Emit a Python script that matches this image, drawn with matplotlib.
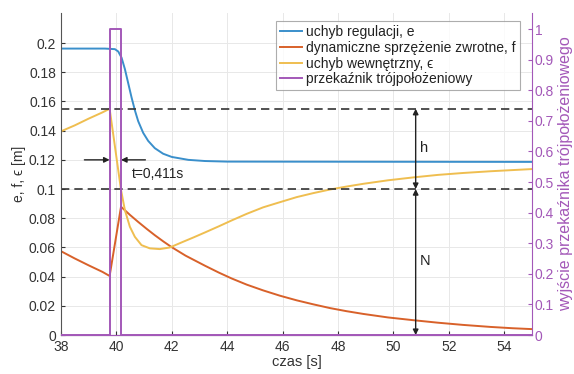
import numpy as np
import matplotlib.pyplot as plt
from matplotlib.ticker import FuncFormatter

plt.rcParams['font.family'] = ['Liberation Sans', 'DejaVu Sans']

# uchyb regulacji e
t_e = [38, 39.59, 39.95, 40.07, 40.19, 40.31, 40.43, 40.55, 40.67, 40.79, 40.97, 41.15,
       41.39, 41.69, 42.0, 42.6, 43.2, 44.0, 55]
e = [0.1962, 0.1962, 0.1958, 0.1942, 0.1900, 0.1822, 0.1725, 0.1628, 0.1540, 0.1465, 0.1385,
     0.1330, 0.1280, 0.1242, 0.1220, 0.1200, 0.1192, 0.1188, 0.1186]

# dynamiczne sprzezenie zwrotne f
t_f = [38, 38.5, 39, 39.5, 39.76, 40.17, 40.5, 40.79, 41.1, 41.39, 41.7, 42.0, 42.5, 43.2, 43.7,
       44.16, 44.7, 45.3, 45.9, 46.51, 47.1, 47.71, 48.3, 48.91, 49.8, 50.72, 51.6, 52.5, 53.5,
       54.3, 55]
f = [0.0575, 0.0525, 0.0478, 0.0433, 0.0405, 0.0879, 0.0822, 0.0775, 0.0727, 0.0684, 0.0641,
     0.0602, 0.0544, 0.0475, 0.0428, 0.0388, 0.0346, 0.0306, 0.0270, 0.0238, 0.0211, 0.0185,
     0.0164, 0.0145, 0.0121, 0.0102, 0.0085, 0.0070, 0.0056, 0.0047, 0.0041]

# uchyb wewnetrzny eps
t_eps = [38, 38.5, 39, 39.5, 39.76, 40.17, 40.31, 40.49, 40.67, 40.91, 41.21, 41.57, 41.93, 42.36,
         42.8, 43.2, 43.7, 44.16, 44.7, 45.3, 45.9, 46.51, 47.1, 47.71, 48.3, 48.91, 49.8, 50.72,
         51.6, 52.5, 53.5, 54.3, 55]
eps = [0.1395, 0.1436, 0.1482, 0.1525, 0.1550, 0.0995, 0.0856, 0.0742, 0.0673, 0.0616, 0.0594,
       0.0589, 0.0600, 0.0635, 0.0670, 0.0703, 0.0745, 0.0785, 0.0830, 0.0875, 0.0910, 0.0945,
       0.0972, 0.0997, 0.1017, 0.1036, 0.1060, 0.1080, 0.1097, 0.1110, 0.1122, 0.1130, 0.1137]

# przekaznik trojpolozeniowy
t_u = [38, 39.76, 39.76, 40.17, 40.17, 55]
u = [0, 0, 1, 1, 0, 0]

thr_upper = 0.155
thr_lower = 0.1

c_blue = '#3A8FCB'
c_orange = '#D8612A'
c_yellow = '#EFBE50'
c_purple = '#A358B8'

fig = plt.figure(figsize=(5.74, 3.74), dpi=100)
ax = fig.add_axes([0.106, 0.104, 0.821, 0.861])

ax.plot(t_e, e, color=c_blue, lw=1.4, label='uchyb regulacji, e')
ax.plot(t_f, f, color=c_orange, lw=1.4, label='dynamiczne sprzężenie zwrotne, f')
ax.plot(t_eps, eps, color=c_yellow, lw=1.4, label='uchyb wewnętrzny, \u03f5')
ax.axhline(thr_upper, color='#333333', ls=(0, (5, 3)), lw=1.2)
ax.axhline(thr_lower, color='#333333', ls=(0, (5, 3)), lw=1.2)

ax.set_xlim(38, 55)
ax.set_ylim(0, 0.2205)
ax.set_xticks(np.arange(38, 55, 2))
ax.set_yticks(np.arange(0, 0.201, 0.02))
ax.yaxis.set_major_formatter(FuncFormatter(lambda v, p: '%g' % round(v, 3)))
ax.grid(True, color='#e8e8e8', lw=0.7)
ax.set_axisbelow(True)
ax.tick_params(direction='in', labelsize=10, colors='#333333', length=3)
ax.spines['top'].set_visible(False)
ax.spines['right'].set_visible(False)
for s in ['left', 'bottom']:
    ax.spines[s].set_color('#555555')
ax.set_xlabel('czas [s]', fontsize=10.5, color='#333333', labelpad=1)
ax.set_ylabel('e, f, \u03f5 [m]', fontsize=10, color='#333333', labelpad=2)

ax2 = ax.twinx()
ax2.plot(t_u, u, color=c_purple, lw=1.4, label='przekaźnik trójpołożeniowy')
ax2.set_ylim(0, 1.052)
ax2.set_yticks(np.arange(0, 1.01, 0.1))
ax2.yaxis.set_major_formatter(FuncFormatter(lambda v, p: '%g' % round(v, 2)))
ax2.tick_params(direction='in', labelsize=10, colors=c_purple, length=3, pad=2)
ax2.spines['top'].set_visible(False)
ax2.spines['left'].set_visible(False)
ax2.spines['right'].set_color(c_purple)
ax2.spines['bottom'].set_color(c_purple)
ax2.set_ylabel('wyjście przekaźnika trójpołożeniowego', fontsize=11.5, color=c_purple, labelpad=3)

# annotations
arr = dict(arrowstyle='<|-|>', color='#222222', lw=1.0, mutation_scale=8, shrinkA=0, shrinkB=0)
ax.annotate('', xy=(50.8, thr_lower), xytext=(50.8, thr_upper), arrowprops=arr)
ax.annotate('', xy=(50.8, 0), xytext=(50.8, thr_lower), arrowprops=arr)
ax.text(50.95, 0.128, 'h', fontsize=10.5, color='#222222', va='center')
ax.text(50.95, 0.051, 'N', fontsize=10.5, color='#222222', va='center')

arr1 = dict(arrowstyle='-|>', color='#222222', lw=1.0, mutation_scale=8, shrinkA=0, shrinkB=0)
ax.annotate('', xy=(39.76, 0.12), xytext=(38.85, 0.12), arrowprops=arr1)
ax.annotate('', xy=(40.17, 0.12), xytext=(41.05, 0.12), arrowprops=arr1)
ax.text(40.55, 0.1105, 't=0,411s', fontsize=10, color='#222222', va='center')

h1, l1 = ax.get_legend_handles_labels()
h2, l2 = ax2.get_legend_handles_labels()
leg = ax2.legend(h1 + h2, l1 + l2, loc='upper right', bbox_to_anchor=(0.9745, 0.975), fontsize=10,
                 frameon=True, fancybox=False, handlelength=1.6, handletextpad=0.3,
                 borderpad=0.3, labelspacing=0.12, borderaxespad=0)
leg.get_frame().set_edgecolor('#999999')
leg.get_frame().set_linewidth(0.8)
for txt in leg.get_texts():
    txt.set_color('#222222')

fig.savefig('out.png', dpi=100)
